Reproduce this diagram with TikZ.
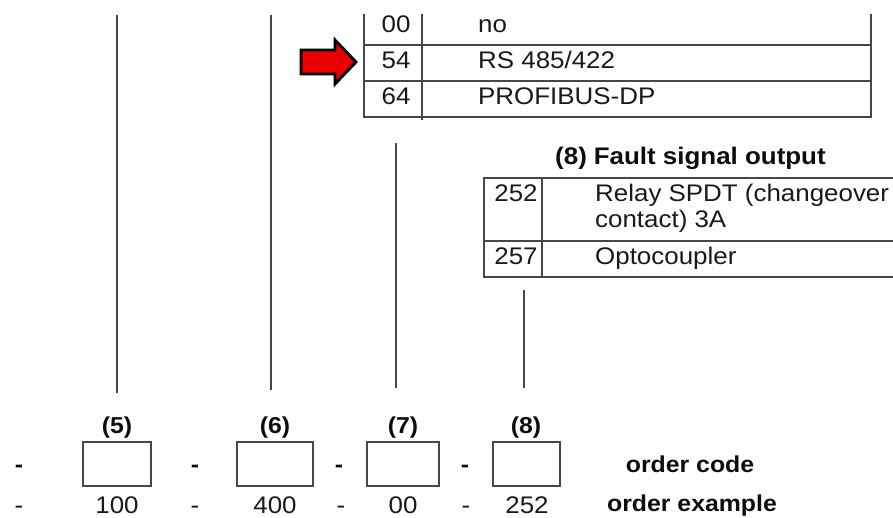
\documentclass[tikz,border=0pt]{standalone}
\usepackage{fontspec}
\setmainfont[FakeStretch=1.08]{Liberation Sans}
\begin{document}
\begin{tikzpicture}[x=1pt,y=-1pt,
  rule/.style={draw=black!72,line width=1.3pt},
  txt/.style={inner sep=0pt,font=\fontsize{24}{26}\selectfont,text=black!90},
  btxt/.style={inner sep=0pt,font=\fontsize{23}{26}\selectfont\bfseries,text=black!95},
  codebox/.style={draw=black!72,line width=1.2pt,minimum height=44pt,inner sep=0pt}]
\useasboundingbox (0,0) rectangle (893,518);
% top table
\draw[rule] (364,14) -- (364,117) -- (871,117) -- (871,14);
\draw[rule] (422,14) -- (422,120);
\draw[rule] (364,45) -- (871,45);
\draw[rule] (364,81) -- (871,81);
\node[txt,anchor=base] (c00) at (396,33) {00};
\node[txt,anchor=base west] (t00) at (478,33) {no};
\node[txt,anchor=base] (c54) at (396,69) {54};
\node[txt,anchor=base west] (t54) at (478,69) {RS 485/422};
\node[txt,anchor=base] (c64) at (396,105) {64};
\node[txt,anchor=base west] (t64) at (478,105) {PROFIBUS-DP};
% red arrow
\filldraw[fill=red!92!black,draw=black,line width=2.8pt,line join=miter,miter limit=10]
  (301,50) -- (335,50) -- (335,40) -- (356,62) -- (335,84) -- (335,74) -- (301,74) -- cycle;
% fault table
\node[btxt,anchor=west,font=\fontsize{24}{26}\selectfont\bfseries] (ftitle) at (555,158) {(8)\hspace{7pt}Fault signal output};
\draw[rule] (893,178) -- (484,178) -- (484,277) -- (893,277);
\draw[rule] (542,178) -- (542,277);
\draw[rule] (484,241) -- (893,241);
\node[txt,anchor=base] (c252) at (516,202) {252};
\node[txt,anchor=base west] (t252a) at (595,202) {Relay SPDT (changeover};
\node[txt,anchor=base west] (t252b) at (595,228) {contact) 3A};
\node[txt,anchor=base] (c257) at (516,265) {257};
\node[txt,anchor=base west] (t257) at (595,265) {Optocoupler};
% bottom
\node[btxt,anchor=base] (l5) at (117,433) {(5)};
\node[btxt,anchor=base] (l6) at (275,433) {(6)};
\node[btxt,anchor=base] (l7) at (403,433) {(7)};
\node[btxt,anchor=base] (l8) at (526,433) {(8)};
\node[codebox,minimum width=68pt] (b5) at (117,464) {};
\node[codebox,minimum width=76pt] (b6) at (275,464) {};
\node[codebox,minimum width=72pt] (b7) at (403,464) {};
\node[codebox,minimum width=67pt] (b8) at (526.5,464) {};
\node[btxt,anchor=base] (d1) at (19,472) {-};
\node[btxt,anchor=base] (d2) at (195,472) {-};
\node[btxt,anchor=base] (d3) at (339,472) {-};
\node[btxt,anchor=base] (d4) at (465,472) {-};
\node[btxt,anchor=base] (oc) at (690,472) {order code};
\node[txt,anchor=base] (e1) at (19,513) {-};
\node[txt,anchor=base] (e5) at (117,513) {100};
\node[txt,anchor=base] (e2) at (195,513) {-};
\node[txt,anchor=base] (e6) at (275,513) {400};
\node[txt,anchor=base] (e3) at (341,513) {-};
\node[txt,anchor=base] (e7) at (403,513) {00};
\node[txt,anchor=base] (e4) at (466,513) {-};
\node[txt,anchor=base] (e8) at (527,513) {252};
\node[btxt,anchor=base] (oe) at (692,511) {order example};
% connectors
\coordinate (top5) at (117,15);
\coordinate (top6) at (271,15);
\coordinate (top7) at (396,143);
\coordinate (top8) at (524,290);
\coordinate (bot5) at (117,393);
\coordinate (bot6) at (271,390);
\coordinate (bot7) at (396,388);
\coordinate (bot8) at (524,388);
\draw[rule,line width=1.1pt] (top5) -- (bot5);
\draw[rule,line width=1.1pt] (top6) -- (bot6);
\draw[rule,line width=1.1pt] (top7) -- (bot7);
\draw[rule,line width=1.1pt] (top8) -- (bot8);
\end{tikzpicture}
\end{document}
